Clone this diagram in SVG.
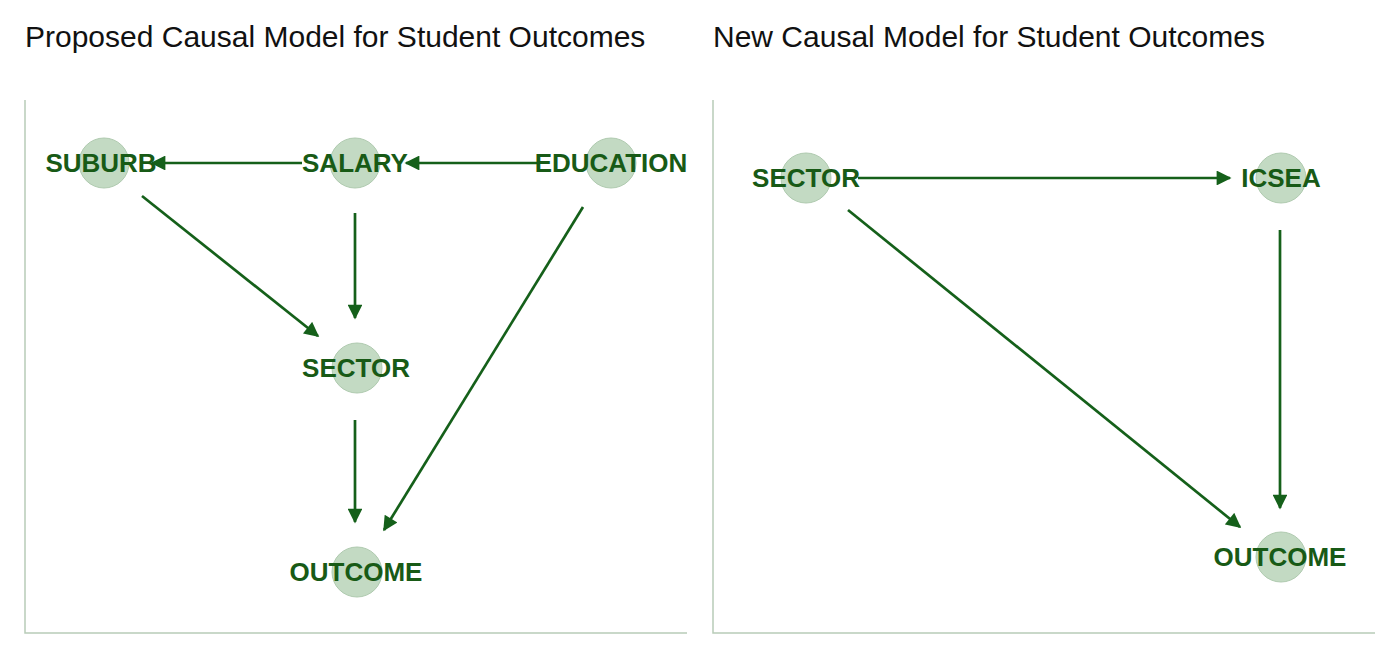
<svg xmlns="http://www.w3.org/2000/svg" width="1400" height="659" viewBox="0 0 1400 659">
<style>
.title{font-family:"Liberation Sans",Arial,sans-serif;font-size:30px;fill:#111}
.lbl{font-family:"Liberation Sans",Arial,sans-serif;font-size:26px;font-weight:bold;fill:#185a16;text-anchor:middle}
.dot{fill:#c3dac3;stroke:#afcaaf;stroke-width:1}
.frame{stroke:#b8ccb8;stroke-width:1.5;fill:none}
.edge{stroke:#15601a;stroke-width:2.7;fill:none;marker-end:url(#ah)}
</style>
<defs>
<marker id="ah" viewBox="0 0 10 10" refX="9" refY="5" markerWidth="6" markerHeight="5.5" markerUnits="strokeWidth" orient="auto">
<path d="M0,0 L10,5 L0,10 z" fill="#15601a"/>
</marker>
</defs>
<rect width="1400" height="659" fill="#fff"/>
<text class="title" x="25" y="47">Proposed Causal Model for Student Outcomes</text>
<text class="title" x="713" y="47">New Causal Model for Student Outcomes</text>
<g id="frames">
<path class="frame" d="M25,100 V633 H687"/>
<path class="frame" d="M713,100 V633 H1375"/>
</g>
<g id="connectors">
<line class="edge" x1="302" y1="163" x2="152" y2="163"/>
<line class="edge" x1="540" y1="163" x2="406" y2="163"/>
<line class="edge" x1="142" y1="196" x2="318" y2="336"/>
<line class="edge" x1="355" y1="213" x2="355" y2="318"/>
<line class="edge" x1="583" y1="207" x2="384" y2="530"/>
<line class="edge" x1="355" y1="420" x2="355" y2="522"/>
<line class="edge" x1="858" y1="178" x2="1230" y2="178"/>
<line class="edge" x1="848" y1="210" x2="1240" y2="527"/>
<line class="edge" x1="1280" y1="230" x2="1280" y2="508"/>
</g>
<g id="suburb"><circle class="dot" cx="104" cy="163" r="25"/><text class="lbl" x="101" y="172">SUBURB</text></g>
<g id="salary"><circle class="dot" cx="355" cy="163" r="25"/><text class="lbl" x="355" y="172">SALARY</text></g>
<g id="education"><circle class="dot" cx="611" cy="163" r="25"/><text class="lbl" x="611" y="172">EDUCATION</text></g>
<g id="sector1"><circle class="dot" cx="357" cy="368" r="25"/><text class="lbl" x="356" y="377">SECTOR</text></g>
<g id="outcome1"><circle class="dot" cx="357" cy="572" r="25"/><text class="lbl" x="356" y="581">OUTCOME</text></g>
<g id="sector2"><circle class="dot" cx="806" cy="178" r="25"/><text class="lbl" x="806" y="187">SECTOR</text></g>
<g id="icsea"><circle class="dot" cx="1281" cy="178" r="25"/><text class="lbl" x="1281" y="187">ICSEA</text></g>
<g id="outcome2"><circle class="dot" cx="1281" cy="557" r="25"/><text class="lbl" x="1280" y="566">OUTCOME</text></g>
</svg>
